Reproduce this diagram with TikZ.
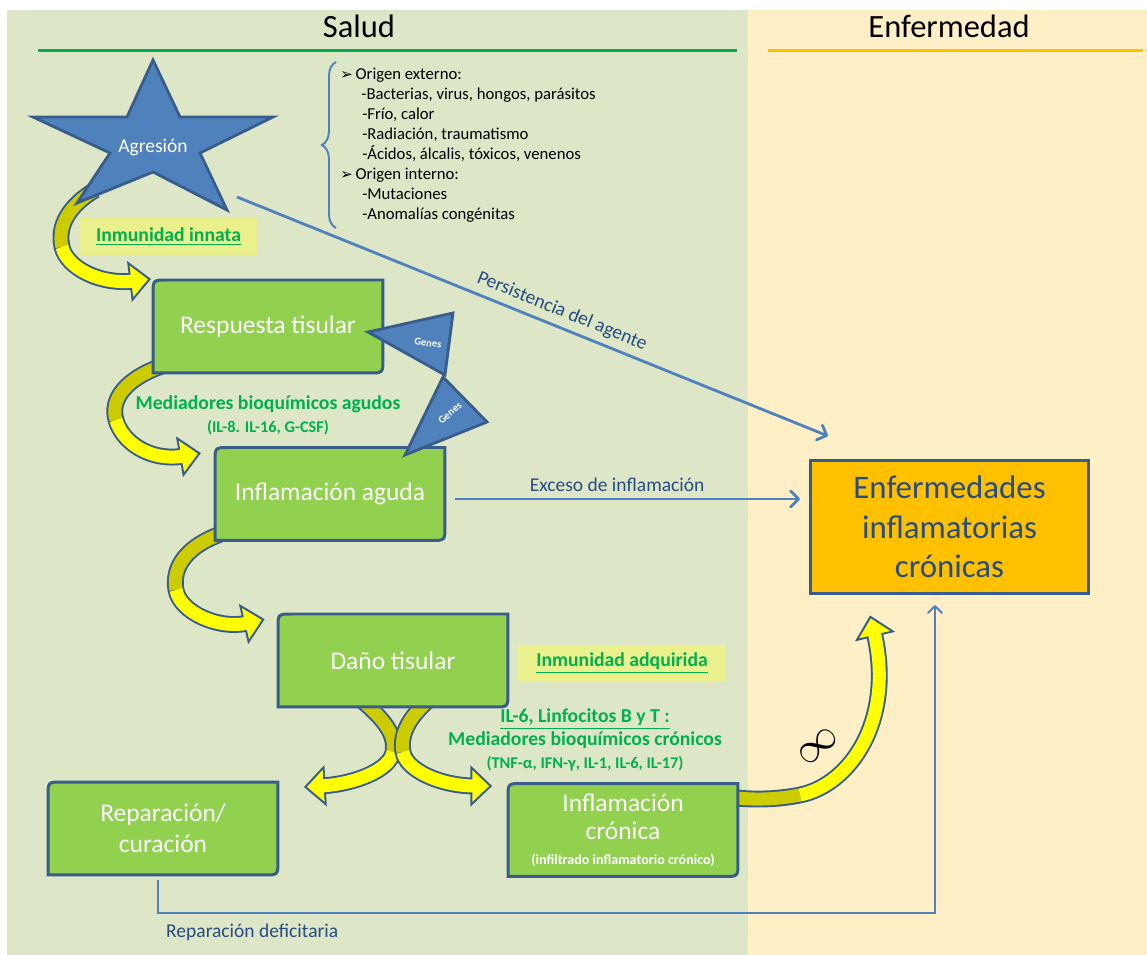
\documentclass[tikz,border=0pt]{standalone}
\usepackage{fontspec}
\setmainfont{Carlito}
\newfontfamily\dingfont{DejaVu Sans}
\usetikzlibrary{calc,arrows.meta,decorations.markings,decorations.pathreplacing}

\definecolor{saludbg}{RGB}{221,230,199}
\definecolor{enfbg}{RGB}{255,239,198}
\definecolor{boxgreen}{RGB}{146,208,80}
\definecolor{boxline}{RGB}{56,93,138}
\definecolor{starblue}{RGB}{79,129,189}
\definecolor{linkblue}{RGB}{79,129,189}
\definecolor{labelblue}{RGB}{38,76,128}
\definecolor{txtgreen}{RGB}{0,176,80}
\definecolor{hlyellow}{RGB}{233,240,140}
\definecolor{enforange}{RGB}{255,192,0}
\definecolor{bandolive}{RGB}{204,204,0}
\definecolor{bandyellow}{RGB}{255,255,0}

\pgfdeclarelayer{panel}
\pgfdeclarelayer{band}
\pgfdeclarelayer{shape}
\pgfsetlayers{panel,band,shape,main}

\tikzset{
  headtext/.style={font=\fontsize{18.5}{22}\selectfont},
  stagebox/.style={minimum width=4.6cm, minimum height=1.86cm, inner sep=0pt, outer sep=0pt,
    align=center, text=white, font=\fontsize{14.5}{17.5}\selectfont},
  stageline/.style={fill=boxgreen, draw=boxline, line width=1.7pt},
  starline/.style={fill=starblue, draw=boxline, line width=1.6pt, line join=miter},
  enfbox/.style={minimum width=5.58cm, minimum height=2.68cm, inner sep=0pt, outer sep=0pt,
    fill=enforange, draw=boxline, line width=1.7pt, align=center, text=labelblue,
    font=\fontsize{18.7}{22.4}\selectfont},
  startext/.style={text=white, font=\fontsize{11.1}{13}\selectfont},
  gentext/.style={text=white, font=\bfseries\fontsize{6}{7}\selectfont},
  greentext/.style={text=txtgreen, font=\bfseries\fontsize{11.2}{13}\selectfont, align=center},
  hlbox/.style={greentext, fill=hlyellow, inner sep=0pt},
  causetext/.style={font=\fontsize{9.5}{11.34}\selectfont, align=left, inner sep=0pt},
  linktext/.style={text=labelblue, font=\fontsize{11.1}{13}\selectfont},
  linkarrow/.style={draw=linkblue, line width=1.6pt, -{Straight Barb[length=4.5pt,width=9pt,round]}},
  deficitline/.style={draw=linkblue, line width=1.1pt, -{Straight Barb[length=4pt,width=8pt,round]}},
  bracestyle/.style={draw=linkblue, line width=1.1pt},
  saludrule/.style={draw=txtgreen, line width=1.7pt},
  enfrule/.style={draw=enforange, line width=1.7pt},
  bandedge/.style={draw=boxline, line width=9.6pt,
    postaction={decorate, decoration={markings, mark=at position 0.999 with {
      \filldraw[fill=bandyellow, draw=boxline, line width=1.1pt, line join=miter]
        (-2pt,10.5pt) -- (9pt,0pt) -- (-2pt,-10.5pt) -- cycle;}}}},
  bandback/.style={draw=bandolive, line width=7.4pt},
  bandfront/.style={draw=bandyellow, line width=7.4pt}
}

% curved block arrow: start, c1, c2, middle, c3, c4, end
\newcommand{\yband}[7]{%
  \draw[bandedge] #1 .. controls #2 and #3 .. #4 .. controls #5 and #6 .. #7;
  \draw[bandback] #1 .. controls #2 and #3 .. #4;
  \draw[bandfront] #4 .. controls #5 and #6 .. #7;}

\begin{document}
\begin{tikzpicture}[x=0.02cm, y=-0.02cm]
\useasboundingbox (0,0) rectangle (1147,955);

% two halves
\begin{pgfonlayer}{panel}
\fill[saludbg] (7,10) rectangle (748,955);
\fill[enfbg] (748,10) rectangle (1147,955);
\draw[saludrule] (38,51) -- (737,51);
\draw[enfrule] (768,51) -- (1143,51);
\end{pgfonlayer}

\node[headtext] (salud) at (359,26) {Salud};
\node[headtext] (enfermedad) at (949,26) {Enfermedad};

% stages
\node[stagebox] (resp) at (268,326.5) {Respuesta tisular};
\node[stagebox] (aguda) at (330,494) {Inflamación aguda};
\node[stagebox] (dano) at (393,660.5) {Daño tisular};
\node[stagebox] (repar) at (163,828.5) {Reparación/\\curación};
\node[stagebox, font=\fontsize{14.5}{16.4}\selectfont] (cronica) at (623,830) {Inflamación\\crónica\\[-2.5pt]{\bfseries\fontsize{8}{9}\selectfont (infiltrado inflamatorio crónico)}};
\node[enfbox] (enf) at (949.5,527) {Enfermedades\\inflamatorias\\crónicas};

\node[startext] (agr) at (153,147) {Agresión};
\node[gentext, rotate=-8] (gen1) at (428,343) {Genes};
\node[gentext, rotate=40] (gen2) at (450,413) {Genes};

\begin{pgfonlayer}{shape}
\foreach \stage in {resp,aguda,dano,repar,cronica}
  \filldraw[stageline] (\stage.south west) -- ([yshift=-8pt]\stage.north west)
    .. controls (\stage.north west) .. ([xshift=8pt]\stage.north west) -- (\stage.north east)
    -- ([yshift=8pt]\stage.south east) .. controls (\stage.south east) .. ([xshift=-8pt]\stage.south east) -- cycle;
% star
\filldraw[starline] (153,60) -- (180,117) -- (273,117) -- (200,153) -- (227,210) -- (153,172)
  -- (77,203) -- (110,153) -- (33,117) -- (127,117) -- cycle;
% genes
\filldraw[starline] (368,332) -- (453,313) -- (445,375) -- cycle;
\filldraw[starline] (443,377) -- (487,422) -- (405,455) -- cycle;
\end{pgfonlayer}

% yellow arrows
\begin{pgfonlayer}{band}
\yband{($(agr)+(-58,43)$)}{(70,205)}{(57,225)}{(62,247)}{(67,268)}{(100,285)}{($(resp.west)+(-19,-45.5)$)}
\yband{($(resp.south west)+(12,-8)$)}{(125,378)}{(110,400)}{(116,420)}{(122,442)}{(150,462)}{($(aguda.west)+(-31,-38)$)}
\yband{($(aguda.south west)+(13,-9)$)}{(185,545)}{(172,568)}{(176,590)}{(180,612)}{(218,630)}{($(dano.west)+(-30,-37.5)$)}
\yband{($(dano.south)+(-33,-8)$)}{(385,720)}{(396,735)}{(393,752)}{(390,770)}{(355,784)}{($(repar.east)+(43,-42.5)$)}
\yband{($(dano.south)+(37,-8)$)}{(408,718)}{(400,735)}{(403,752)}{(406,770)}{(440,786)}{($(cronica.west)+(-33,-44)$)}
\yband{($(cronica.east)+(-10,-33)$)}{(750,800)}{(775,800)}{(800,795)}{(850,785)}{(895,720)}{($(enf.south)+(-75.5,38)$)}
\end{pgfonlayer}

% causes
\draw[bracestyle, decorate, decoration={brace, amplitude=8pt}] (336,228) -- (336,62);
\node[causetext, anchor=north west] (causas) at (340,68) {%
{\dingfont\fontsize{8.5}{8.5}\selectfont ➢}\,Origen externo:\\
\hspace*{12pt}-Bacterias, virus, hongos, parásitos\\
\hspace*{12.5pt}-Frío, calor\\
\hspace*{12.5pt}-Radiación, traumatismo\\
\hspace*{12.5pt}-Ácidos, álcalis, tóxicos, venenos\\
{\dingfont\fontsize{8.5}{8.5}\selectfont ➢}\,Origen interno:\\
\hspace*{12.5pt}-Mutaciones\\
\hspace*{12.5pt}-Anomalías congénitas};

% green labels
\node[hlbox, minimum width=3.54cm, minimum height=0.74cm] (innata) at (168.5,236.5) {\underline{Inmunidad innata}};
\node[hlbox, minimum width=4.16cm, minimum height=0.72cm] (adquirida) at (622,663) {\underline{Inmunidad adquirida}};
\node[greentext] (agudos) at (268,415) {Mediadores bioquímicos agudos\\{\fontsize{9.3}{11}\selectfont (IL-8. IL-16, G-CSF)}};
\node[greentext] (cronicos) at (585,740) {\underline{IL-6, Linfocitos B y T :}\\Mediadores bioquímicos crónicos\\{\fontsize{9.3}{11}\selectfont (TNF-α, IFN-γ, IL-1, IL-6, IL-17)}};

\node[font=\Huge, rotate=40] (bucle) at (818,746) {$\infty$};

% links to disease
\draw[linkarrow] ($(agr)+(84,50)$) -- ($(enf.north west)+(18,-24)$)
  node[linktext, pos=0.54, sloped, above] {Persistencia del agente};
\draw[linkarrow] ($(aguda.east)+(10,5)$) -- ($(aguda.east -| enf.west)+(-10,5)$)
  node[linktext, pos=0.47, above] {Exceso de inflamación};
\draw[deficitline] ($(repar.south)+(-5,5)$) |- ($(enf.south)+(-14.5,319)$) -- ($(enf.south)+(-14.5,11)$);
\node[linktext, anchor=north west] (deficit) at ($(repar.south)+(-3,43)$) {Reparación deficitaria};
\end{tikzpicture}
\end{document}
